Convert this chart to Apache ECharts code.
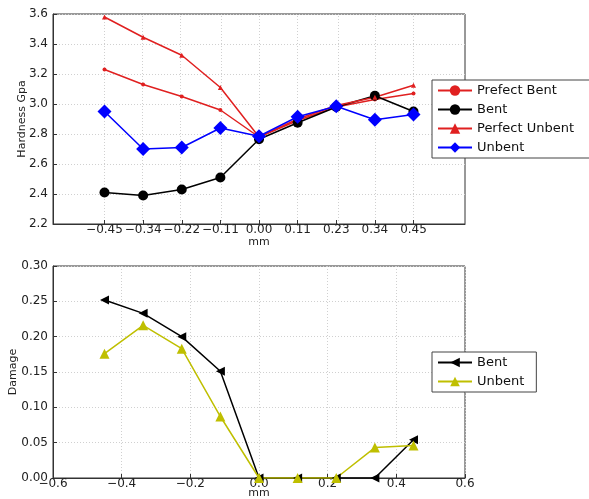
<!DOCTYPE html>
<html>
<head>
<meta charset="utf-8">
<script src="https://cdn.jsdelivr.net/npm/echarts@6/dist/echarts.min.js"></script>
<style>html,body{margin:0;padding:0;background:#fff}#c{width:589px;height:499px}</style>
</head>
<body>
<div id="c"></div>
<script>
// x positions (mm) and tick labels shared by both panels
const xPos = [-0.45, -0.3375, -0.225, -0.1125, 0, 0.1125, 0.225, 0.3375, 0.45];
const xLabels = ['\u22120.45', '\u22120.34', '\u22120.22', '\u22120.11', '0.00', '0.11', '0.23', '0.34', '0.45'];

// Top panel: hardness (GPa)
const prefectBent   = [3.23, 3.13, 3.05, 2.96, 2.78, 2.89, 2.98, 3.03, 3.07];
const hardBent      = [2.41, 2.39, 2.43, 2.51, 2.765, 2.875, 2.98, 3.055, 2.95];
const perfectUnbent = [3.58, 3.445, 3.325, 3.11, 2.78, 2.90, 2.99, 3.045, 3.125];
const hardUnbent    = [2.95, 2.70, 2.71, 2.84, 2.785, 2.915, 2.985, 2.895, 2.93];

// Bottom panel: damage
const dmgBent   = [0.252, 0.233, 0.200, 0.151, 0, 0, 0, 0, 0.054];
const dmgUnbent = [0.176, 0.216, 0.183, 0.087, 0, 0, 0, 0.043, 0.046];

const FONT = 'DejaVu Sans';
const pair = arr => arr.map((v, i) => [xPos[i], v]);
const minus = s => s.replace('-', '\u2212');

const chart = echarts.init(document.getElementById('c'), null, {renderer: 'canvas'});

const axisLineStyle = {onZero: false, lineStyle: {color: '#333', width: 1}};
const gridLine = {show: true, lineStyle: {color: '#d0d0d0', type: [1, 2], width: 1}};
const labelStyle = {fontFamily: FONT, fontSize: 12, color: '#222'};
const nameStyle = {fontFamily: FONT, fontSize: 11, color: '#222'};
const mk = c => ({color: c, borderColor: c, borderWidth: 0, opacity: 1});

function lineSeries(name, arr, color, symbol, size, xi, extra) {
  return Object.assign({
    name: name, type: 'line', xAxisIndex: xi, yAxisIndex: xi, data: pair(arr),
    color: color, symbol: symbol, symbolSize: size, lineStyle: {width: 1.5, color: color},
    itemStyle: mk(color), emphasis: {disabled: true}, z: 3
  }, extra || {});
}

const series = [
  {
    name: 'xgrid', type: 'line', xAxisIndex: 0, yAxisIndex: 0, data: [], silent: true, z: 0,
    markLine: {silent: true, z: 0, symbol: 'none', label: {show: false},
      lineStyle: {color: '#d0d0d0', type: [1, 2], width: 1},
      data: xPos.map(v => ({xAxis: v}))}
  },
  lineSeries('Prefect Bent', prefectBent, '#e02020', 'circle', 4, 0),
  lineSeries('Bent', hardBent, '#000000', 'circle', 10, 0),
  lineSeries('Perfect Unbent', perfectUnbent, '#e02020', 'triangle', 5, 0),
  lineSeries('Unbent', hardUnbent, '#0000ff', 'diamond', 14, 0),
  lineSeries('Bent ', dmgBent, '#000000', 'triangle', 9, 1, {symbolRotate: 90}),
  lineSeries('Unbent ', dmgUnbent, '#bfbf00', 'triangle', 10, 1)
];

chart.setOption({
  animation: false,
  backgroundColor: '#fff',
  grid: [
    {left: 53, top: 14, width: 412, height: 210, show: true, borderColor: '#333', borderWidth: 1,
     backgroundColor: 'transparent', containLabel: false, outerBoundsMode: 'none'},
    {left: 53, top: 266, width: 412, height: 212, show: true, borderColor: '#333', borderWidth: 1,
     backgroundColor: 'transparent', containLabel: false, outerBoundsMode: 'none'}
  ],
  xAxis: [
    {
      gridIndex: 0, type: 'value', min: -0.6, max: 0.6,
      name: 'mm', nameLocation: 'middle', nameGap: 13, nameMoveOverlap: false,
      nameTextStyle: nameStyle,
      axisLine: axisLineStyle,
      axisTick: {show: true, inside: true, length: 4, customValues: xPos, lineStyle: {color: '#333'}},
      axisLabel: Object.assign({margin: 0, customValues: xPos,
        formatter: v => { let k = 0, d = 1e9; xPos.forEach((p, i) => { if (Math.abs(p - v) < d) { d = Math.abs(p - v); k = i; } }); return xLabels[k]; }
      }, labelStyle),
      splitLine: {show: false}
    },
    {
      gridIndex: 1, type: 'value', min: -0.6, max: 0.6, interval: 0.2,
      name: 'mm', nameLocation: 'middle', nameGap: 10, nameMoveOverlap: false,
      nameTextStyle: nameStyle,
      axisLine: axisLineStyle,
      axisTick: {show: true, inside: true, length: 4, lineStyle: {color: '#333'}},
      axisLabel: Object.assign({margin: 0, formatter: v => minus(v.toFixed(1))}, labelStyle),
      splitLine: gridLine
    }
  ],
  yAxis: [
    {
      gridIndex: 0, type: 'value', min: 2.2, max: 3.6, interval: 0.2,
      name: 'Hardness Gpa', nameLocation: 'middle', nameGap: 25, nameMoveOverlap: false,
      nameTextStyle: nameStyle,
      axisLine: axisLineStyle,
      axisTick: {show: true, inside: true, length: 4, lineStyle: {color: '#333'}},
      axisLabel: Object.assign({margin: 5, formatter: v => v.toFixed(1)}, labelStyle),
      splitLine: gridLine
    },
    {
      gridIndex: 1, type: 'value', min: 0, max: 0.3, interval: 0.05,
      name: 'Damage', nameLocation: 'middle', nameGap: 34, nameMoveOverlap: false,
      nameTextStyle: nameStyle,
      axisLine: axisLineStyle,
      axisTick: {show: true, inside: true, length: 4, lineStyle: {color: '#333'}},
      axisLabel: Object.assign({margin: 5, formatter: v => v.toFixed(2)}, labelStyle),
      splitLine: gridLine
    }
  ],
  legend: [
    {
      data: ['Prefect Bent', 'Bent', 'Perfect Unbent', 'Unbent'],
      orient: 'vertical', left: 432, top: 80,
      backgroundColor: '#fff', borderColor: '#444', borderWidth: 1, borderRadius: 0,
      padding: [4, 20, 4, 5], itemGap: 6, itemWidth: 34, itemHeight: 13,
      textStyle: {fontFamily: FONT, fontSize: 13, color: '#111'},
      selectedMode: false
    },
    {
      data: ['Bent ', 'Unbent '],
      orient: 'vertical', left: 432, top: 352,
      backgroundColor: '#fff', borderColor: '#444', borderWidth: 1, borderRadius: 0,
      padding: [4, 12, 4, 5], itemGap: 6, itemWidth: 34, itemHeight: 12,
      formatter: n => n.trim(),
      textStyle: {fontFamily: FONT, fontSize: 13, color: '#111'},
      selectedMode: false
    }
  ],
  series: series
});
</script>
</body>
</html>
